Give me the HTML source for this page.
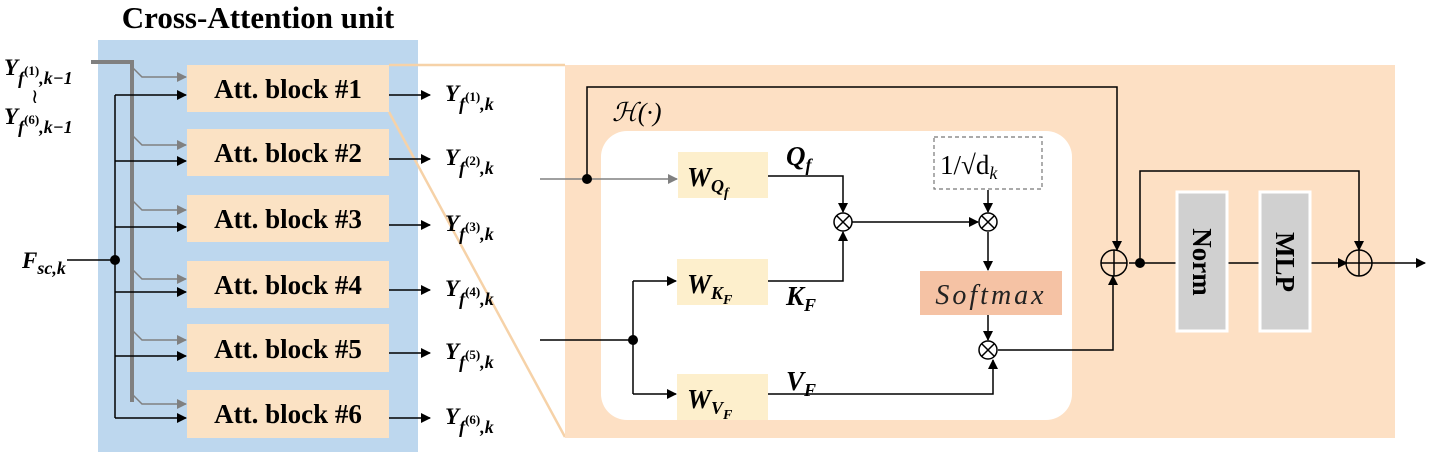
<!DOCTYPE html>
<html><head><meta charset="utf-8"><style>
body{margin:0;background:#fff}
svg text{font-family:"Liberation Serif",serif}
</style></head><body>
<svg width="1435" height="461" viewBox="0 0 1435 461" xmlns="http://www.w3.org/2000/svg">
<defs>
<marker id="a" markerWidth="10" markerHeight="10" refX="9" refY="5" orient="auto" markerUnits="userSpaceOnUse"><path d="M0,0 L10,5 L0,10 z" fill="#000"/></marker>
<marker id="g" markerWidth="10" markerHeight="10" refX="9" refY="5" orient="auto" markerUnits="userSpaceOnUse"><path d="M0,0 L10,5 L0,10 z" fill="#808080"/></marker>
</defs>
<rect x="98" y="40" width="320" height="412" fill="#bdd7ee"/>
<text x="258" y="28" font-size="31" font-weight="bold" text-anchor="middle">Cross-Attention unit</text>
<path d="M389,65 L565,65 M389,112 L565,437" stroke="#f6d2a8" stroke-width="2.5" fill="none"/>
<rect x="565" y="65" width="830" height="373" fill="#fde0c4"/>
<g fill="#fbe2c4">
<rect x="187" y="65" width="202" height="47"/>
<rect x="187" y="129" width="202" height="47"/>
<rect x="187" y="195" width="202" height="47"/>
<rect x="187" y="261" width="202" height="47"/>
<rect x="187" y="324" width="202" height="48"/>
<rect x="187" y="390" width="202" height="48"/>
</g>
<g font-size="27" font-weight="bold" text-anchor="middle">
<text x="288" y="98">Att. block #1</text>
<text x="288" y="162">Att. block #2</text>
<text x="288" y="228">Att. block #3</text>
<text x="288" y="294">Att. block #4</text>
<text x="288" y="358">Att. block #5</text>
<text x="288" y="423">Att. block #6</text>
</g>
<path d="M91,62 L132,62 L132,402" stroke="#808080" stroke-width="4" fill="none"/>
<g stroke="#808080" stroke-width="1.5" fill="none" marker-end="url(#g)">
<path d="M133,68 L142,77 L186,77"/>
<path d="M133,136 L142,145 L186,145"/>
<path d="M133,201 L142,210 L186,210"/>
<path d="M133,270 L142,279 L186,279"/>
<path d="M133,331 L142,340 L186,340"/>
<path d="M133,395 L142,404 L186,404"/>
</g>
<path d="M115,95 L115,418" stroke="#000" stroke-width="1.5" fill="none"/>
<path d="M67,260 L115,260" stroke="#000" stroke-width="1.5"/>
<circle cx="115" cy="260" r="5" fill="#000"/>
<g stroke="#000" stroke-width="1.5" fill="none" marker-end="url(#a)">
<path d="M115,95 L186,95"/><path d="M115,161 L186,161"/><path d="M115,227 L186,227"/>
<path d="M115,292 L186,292"/><path d="M115,356 L186,356"/><path d="M115,418 L186,418"/>
<path d="M389,95 L430,95"/><path d="M389,159 L430,159"/><path d="M389,225 L430,225"/>
<path d="M389,290 L430,290"/><path d="M389,353 L430,353"/><path d="M389,418 L430,418"/>
</g>
<g font-size="23" font-weight="bold" font-style="italic">
<text x="4" y="75">Y<tspan font-size="18" dy="9">f</tspan><tspan font-size="13" dy="-9" font-style="normal">(1)</tspan><tspan font-size="18" dy="9">,k−1</tspan></text>
<text x="31" y="103" font-size="20" font-style="normal" font-weight="normal">≀</text>
<text x="4" y="124">Y<tspan font-size="18" dy="9">f</tspan><tspan font-size="13" dy="-9" font-style="normal">(6)</tspan><tspan font-size="18" dy="9">,k−1</tspan></text>
<text x="22" y="268">F<tspan font-size="18" dy="6">sc,k</tspan></text>
<text x="445" y="101">Y<tspan font-size="18" dy="9">f</tspan><tspan font-size="13" dy="-9" font-style="normal">(1)</tspan><tspan font-size="18" dy="9">,k</tspan></text>
<text x="445" y="165">Y<tspan font-size="18" dy="9">f</tspan><tspan font-size="13" dy="-9" font-style="normal">(2)</tspan><tspan font-size="18" dy="9">,k</tspan></text>
<text x="445" y="231">Y<tspan font-size="18" dy="9">f</tspan><tspan font-size="13" dy="-9" font-style="normal">(3)</tspan><tspan font-size="18" dy="9">,k</tspan></text>
<text x="445" y="296">Y<tspan font-size="18" dy="9">f</tspan><tspan font-size="13" dy="-9" font-style="normal">(4)</tspan><tspan font-size="18" dy="9">,k</tspan></text>
<text x="445" y="359">Y<tspan font-size="18" dy="9">f</tspan><tspan font-size="13" dy="-9" font-style="normal">(5)</tspan><tspan font-size="18" dy="9">,k</tspan></text>
<text x="445" y="424">Y<tspan font-size="18" dy="9">f</tspan><tspan font-size="13" dy="-9" font-style="normal">(6)</tspan><tspan font-size="18" dy="9">,k</tspan></text>
</g>
<rect x="601" y="131" width="471" height="289" rx="26" fill="#fff"/>
<text x="612" y="121" font-size="26" font-style="italic">ℋ(·)</text>
<g fill="#fdefcc">
<rect x="678" y="152" width="90" height="46"/>
<rect x="677" y="259" width="91" height="46"/>
<rect x="677" y="374" width="91" height="46"/>
</g>
<rect x="920" y="271" width="142" height="44" fill="#f5c2a4"/>
<rect x="934" y="137" width="108" height="52" fill="#fff" stroke="#777" stroke-width="1.2" stroke-dasharray="4,3"/>
<text x="940" y="174" font-size="27">1/√d<tspan font-size="18" font-style="italic" dy="5">k</tspan></text>
<text x="991" y="304" font-size="28" font-style="italic" text-anchor="middle" fill="#222" letter-spacing="3">Softmax</text>
<g font-size="27" font-weight="bold" font-style="italic">
<text x="687" y="186">W<tspan font-size="18" dy="6">Q</tspan><tspan font-size="14" dy="5">f</tspan></text>
<text x="687" y="293">W<tspan font-size="18" dy="6">K</tspan><tspan font-size="14" dy="5">F</tspan></text>
<text x="687" y="408">W<tspan font-size="18" dy="6">V</tspan><tspan font-size="14" dy="5">F</tspan></text>
<text x="786" y="165">Q<tspan font-size="18" dy="6">f</tspan></text>
<text x="786" y="305">K<tspan font-size="18" dy="6">F</tspan></text>
<text x="786" y="390">V<tspan font-size="18" dy="6">F</tspan></text>
</g>
<g stroke="#000" stroke-width="1.5" fill="none">
<path d="M587,179 L587,87 L1117,87 L1117,250" marker-end="url(#a)"/>
<path d="M768,176 L843,176 L843,212" marker-end="url(#a)"/>
<path d="M768,281 L843,281 L843,232" marker-end="url(#a)"/>
<path d="M852,222 L978,222" marker-end="url(#a)"/>
<path d="M988,190 L988,212" marker-end="url(#a)"/>
<path d="M988,232 L988,270" marker-end="url(#a)"/>
<path d="M988,315 L988,340" marker-end="url(#a)"/>
<path d="M768,394 L993,394 L993,360" marker-end="url(#a)"/>
<path d="M540,340 L633,340"/>
<path d="M633,281 L633,394"/>
<path d="M633,281 L676,281" marker-end="url(#a)"/>
<path d="M633,394 L676,394" marker-end="url(#a)"/>
<path d="M998,350 L1113,350 L1113,276" marker-end="url(#a)"/>
<path d="M1129,263 L1177,263 M1226,263 L1260,263"/>
<path d="M1309,263 L1347,263" marker-end="url(#a)"/>
<path d="M1140,263 L1140,171 L1359,171 L1359,250" marker-end="url(#a)"/>
<path d="M1372,263 L1425,263" marker-end="url(#a)"/>
</g>
<path d="M540,179 L677,179" stroke="#808080" stroke-width="1.5" marker-end="url(#g)"/>
<circle cx="587" cy="179" r="5" fill="#000"/>
<circle cx="633" cy="340" r="5" fill="#000"/>
<circle cx="1140" cy="263" r="5" fill="#000"/>
<g stroke="#000" stroke-width="1.5" fill="none">
<circle cx="843" cy="222" r="9"/><path d="M836.6,215.6 L849.4,228.4 M849.4,215.6 L836.6,228.4"/>
<circle cx="988" cy="222" r="9"/><path d="M981.6,215.6 L994.4,228.4 M994.4,215.6 L981.6,228.4"/>
<circle cx="988" cy="350" r="9"/><path d="M981.6,343.6 L994.4,356.4 M994.4,343.6 L981.6,356.4"/>
<circle cx="1114" cy="263" r="13"/><path d="M1101,263 L1127,263 M1114,250 L1114,276"/>
<circle cx="1359" cy="263" r="13"/><path d="M1346,263 L1372,263 M1359,250 L1359,276"/>
</g>
<rect x="1177" y="192" width="50" height="139" fill="#d0d0d0" stroke="#fff" stroke-width="3"/>
<rect x="1260" y="192" width="50" height="139" fill="#d0d0d0" stroke="#fff" stroke-width="3"/>
<text transform="translate(1202,262) rotate(90)" font-size="27" font-weight="bold" text-anchor="middle" dy="9">Norm</text>
<text transform="translate(1285,262) rotate(90)" font-size="27" font-weight="bold" text-anchor="middle" dy="9">MLP</text>
</svg>
</body></html>
